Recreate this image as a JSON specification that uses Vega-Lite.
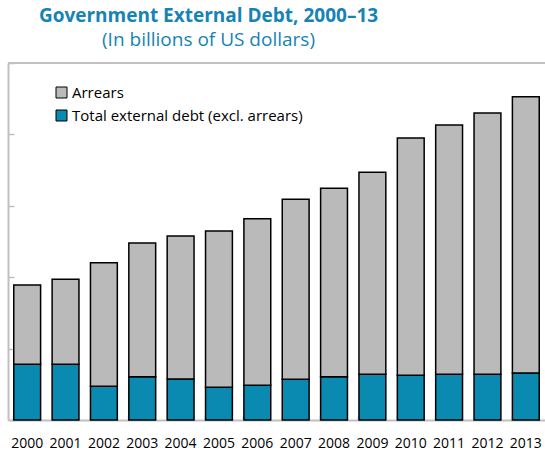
{
  "$schema": "https://vega.github.io/schema/vega-lite/v6.json",
  "width": 537,
  "height": 357,
  "autosize": {"type": "none"},
  "padding": {"left": 8, "top": 63, "right": 0, "bottom": 32},
  "background": "white",
  "title": {
    "text": "Government External Debt, 2000–13",
    "subtitle": "(In billions of US dollars)",
    "anchor": "middle",
    "dx": -68,
    "offset": 12,
    "font": "Open Sans",
    "fontSize": 19,
    "fontWeight": "bold",
    "color": "#1683b6",
    "subtitleFont": "Open Sans",
    "subtitleFontSize": 19,
    "subtitleColor": "#1683b6",
    "subtitlePadding": 5
  },
  "data": {
    "values": [
      {"year": "2000", "series": "Total external debt (excl. arrears)", "value": 3.90, "order": 1},
      {"year": "2000", "series": "Arrears", "value": 5.55, "order": 2},
      {"year": "2001", "series": "Total external debt (excl. arrears)", "value": 3.90, "order": 1},
      {"year": "2001", "series": "Arrears", "value": 5.95, "order": 2},
      {"year": "2002", "series": "Total external debt (excl. arrears)", "value": 2.36, "order": 1},
      {"year": "2002", "series": "Arrears", "value": 8.66, "order": 2},
      {"year": "2003", "series": "Total external debt (excl. arrears)", "value": 3.03, "order": 1},
      {"year": "2003", "series": "Arrears", "value": 9.36, "order": 2},
      {"year": "2004", "series": "Total external debt (excl. arrears)", "value": 2.87, "order": 1},
      {"year": "2004", "series": "Arrears", "value": 10.02, "order": 2},
      {"year": "2005", "series": "Total external debt (excl. arrears)", "value": 2.29, "order": 1},
      {"year": "2005", "series": "Arrears", "value": 10.95, "order": 2},
      {"year": "2006", "series": "Total external debt (excl. arrears)", "value": 2.43, "order": 1},
      {"year": "2006", "series": "Arrears", "value": 11.67, "order": 2},
      {"year": "2007", "series": "Total external debt (excl. arrears)", "value": 2.85, "order": 1},
      {"year": "2007", "series": "Arrears", "value": 12.61, "order": 2},
      {"year": "2008", "series": "Total external debt (excl. arrears)", "value": 3.03, "order": 1},
      {"year": "2008", "series": "Arrears", "value": 13.20, "order": 2},
      {"year": "2009", "series": "Total external debt (excl. arrears)", "value": 3.20, "order": 1},
      {"year": "2009", "series": "Arrears", "value": 14.15, "order": 2},
      {"year": "2010", "series": "Total external debt (excl. arrears)", "value": 3.13, "order": 1},
      {"year": "2010", "series": "Arrears", "value": 16.62, "order": 2},
      {"year": "2011", "series": "Total external debt (excl. arrears)", "value": 3.20, "order": 1},
      {"year": "2011", "series": "Arrears", "value": 17.46, "order": 2},
      {"year": "2012", "series": "Total external debt (excl. arrears)", "value": 3.20, "order": 1},
      {"year": "2012", "series": "Arrears", "value": 18.30, "order": 2},
      {"year": "2013", "series": "Total external debt (excl. arrears)", "value": 3.29, "order": 1},
      {"year": "2013", "series": "Arrears", "value": 19.35, "order": 2}
    ]
  },
  "layer": [
    {
      "mark": {"type": "bar", "stroke": "black", "strokeWidth": 1.5},
      "encoding": {
        "x": {
          "field": "year",
          "type": "ordinal",
          "scale": {"paddingInner": 0.3, "paddingOuter": 0.15},
          "axis": {
            "title": null,
            "labelAngle": 0,
            "labelFont": "Open Sans",
            "labelFontSize": 14,
            "labelColor": "black",
            "labelPadding": 21,
            "bandPosition": 0,
            "tickSize": -5,
            "tickColor": "#c0c0c0",
            "tickWidth": 1.5,
            "domainColor": "#c0c0c0",
            "domainWidth": 2
          }
        },
        "y": {
          "field": "value",
          "type": "quantitative",
          "stack": "zero",
          "scale": {"domain": [0, 25], "nice": false},
          "axis": {
            "title": null,
            "labels": false,
            "grid": false,
            "values": [0, 5, 10, 15, 20, 25],
            "tickSize": -6,
            "tickColor": "#c0c0c0",
            "tickWidth": 1.5,
            "domainColor": "#c0c0c0",
            "domainWidth": 2
          }
        },
        "color": {
          "field": "series",
          "type": "nominal",
          "scale": {
            "domain": ["Arrears", "Total external debt (excl. arrears)"],
            "range": ["#bababa", "#0a89b1"]
          },
          "legend": {
            "title": null,
            "orient": "none",
            "legendX": 46,
            "legendY": 22,
            "symbolType": "square",
            "symbolSize": 121,
            "symbolStrokeColor": "black",
            "symbolStrokeWidth": 1,
            "symbolOpacity": 1,
            "labelFont": "Open Sans",
            "labelFontSize": 15,
            "labelColor": "black",
            "labelOffset": 3,
            "rowPadding": 7,
            "labelLimit": 400
          }
        },
        "order": {"field": "order", "type": "quantitative"}
      }
    },
    {
      "mark": {"type": "rule", "color": "#c0c0c0", "strokeWidth": 2},
      "encoding": {"y": {"datum": 25}}
    }
  ],
  "config": {"view": {"stroke": null}}
}
